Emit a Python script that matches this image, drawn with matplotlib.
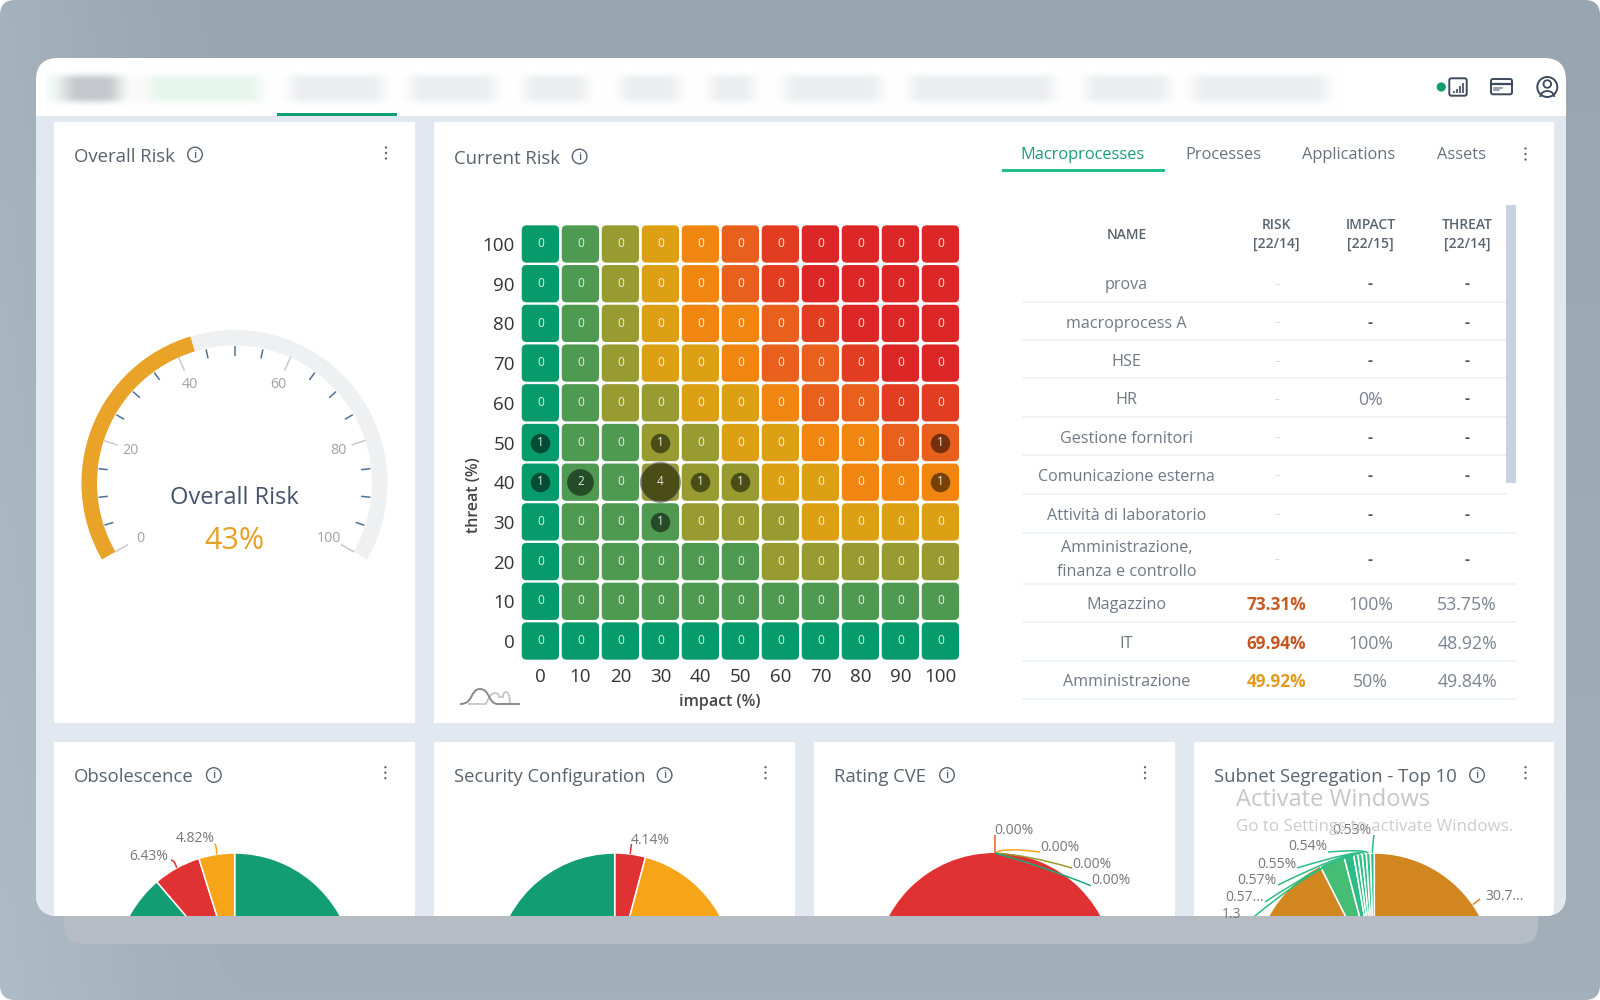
import numpy as np
import matplotlib
matplotlib.use("Agg")
import matplotlib.pyplot as plt
from matplotlib.patches import FancyBboxPatch, Rectangle, Circle, Wedge, PathPatch, Arc
from matplotlib.path import Path

# ---------- data ----------
impact_ticks = [0, 10, 20, 30, 40, 50, 60, 70, 80, 90, 100]
threat_ticks = [0, 10, 20, 30, 40, 50, 60, 70, 80, 90, 100]
heat_palette = ['#079a6b', '#4e9a50', '#979b30', '#dda015', '#f0860f', '#e9601d', '#e23d20', '#dd2726']
# rows listed from threat 100 down to threat 0
heat_levels = [
    [0, 1, 2, 3, 4, 5, 6, 7, 7, 7, 7],
    [0, 1, 2, 3, 4, 5, 6, 7, 7, 7, 7],
    [0, 1, 2, 3, 4, 4, 5, 6, 7, 7, 7],
    [0, 1, 2, 3, 3, 4, 5, 5, 6, 7, 7],
    [0, 1, 2, 2, 3, 3, 4, 5, 5, 6, 6],
    [0, 1, 1, 2, 2, 3, 3, 4, 4, 5, 5],
    [0, 1, 1, 2, 2, 2, 3, 3, 4, 4, 4],
    [0, 1, 1, 1, 2, 2, 2, 3, 3, 3, 3],
    [0, 1, 1, 1, 1, 1, 2, 2, 2, 2, 2],
    [0, 1, 1, 1, 1, 1, 1, 1, 1, 1, 1],
    [0, 0, 0, 0, 0, 0, 0, 0, 0, 0, 0],
]
heat_counts = [
    [0, 0, 0, 0, 0, 0, 0, 0, 0, 0, 0],
    [0, 0, 0, 0, 0, 0, 0, 0, 0, 0, 0],
    [0, 0, 0, 0, 0, 0, 0, 0, 0, 0, 0],
    [0, 0, 0, 0, 0, 0, 0, 0, 0, 0, 0],
    [0, 0, 0, 0, 0, 0, 0, 0, 0, 0, 0],
    [1, 0, 0, 1, 0, 0, 0, 0, 0, 0, 1],
    [1, 2, 0, 4, 1, 1, 0, 0, 0, 0, 1],
    [0, 0, 0, 1, 0, 0, 0, 0, 0, 0, 0],
    [0, 0, 0, 0, 0, 0, 0, 0, 0, 0, 0],
    [0, 0, 0, 0, 0, 0, 0, 0, 0, 0, 0],
    [0, 0, 0, 0, 0, 0, 0, 0, 0, 0, 0],
]
gauge_value = 43
gauge_major = [0, 20, 40, 60, 80, 100]

table_names = ['prova', 'macroprocess A', 'HSE', 'HR', 'Gestione fornitori', 'Comunicazione esterna',
               'Attività di laboratorio', 'Amministrazione,\nfinanza e controllo', 'Magazzino', 'IT',
               'Amministrazione']
table_risk = ['-', '-', '-', '-', '-', '-', '-', '-', '73.31%', '69.94%', '49.92%']
table_impact = ['-', '-', '-', '0%', '-', '-', '-', '-', '100%', '100%', '50%']
table_threat = ['-', '-', '-', '-', '-', '-', '-', '-', '53.75%', '48.92%', '49.84%']
risk_colors = {'73.31%': '#c85a22', '69.94%': '#c4551f', '49.92%': '#e39a1e'}

obsolescence_values = [88.75, 6.43, 4.82]
obsolescence_colors = ['#139d72', '#e03233', '#f6a519']
security_values = [4.14, 45.86, 50.0]
security_colors = ['#e03233', '#f6a519', '#139d72']
cve_values = [100.0, 0.0, 0.0, 0.0, 0.0]
cve_colors = ['#e03233', '#139d72', '#979b30', '#f6a519', '#e9601d']
subnet_values = [30.7, 30.84, 31.0, 3.4, 1.3, 0.57, 0.57, 0.55, 0.54, 0.53]
subnet_colors = ['#d2861f', '#d2861f', '#d2861f', '#45bd75', '#2bbd84', '#2fc08a', '#2fc08a', '#2fc08a', '#2fc08a', '#2fc08a']

W, H = 1600, 1000
BODY = 'Open Sans'
HEATFONT = 'Open Sans'
fig = plt.figure(figsize=(16, 10), dpi=100, facecolor='white')


def px_axes(x0, y0, x1, y1, z=1):
    a = fig.add_axes([x0 / W, 1 - y1 / H, (x1 - x0) / W, (y1 - y0) / H], zorder=z)
    a.patch.set_alpha(0)
    return a


def full_px(z):
    a = px_axes(0, 0, W, H, z)
    a.set_xlim(0, W)
    a.set_ylim(H, 0)
    a.axis('off')
    return a


bg = full_px(0)
fg = full_px(5)


def rrect(a, x0, y0, x1, y1, r, **kw):
    p = FancyBboxPatch((x0, y0), x1 - x0, y1 - y0, boxstyle=f'round,pad=0,rounding_size={r}', **kw)
    a.add_patch(p)
    return p


# ---------- page background ----------
yy, xx = np.mgrid[0:1:60j, 0:1:96j]
shade = 154 + 12 * np.clip(1 - xx * 7, 0, 1) ** 1.3 + 10 * yy
grad = np.clip(np.dstack([shade, shade + 12, shade + 21]) / 255, 0, 1)
im = bg.imshow(grad, extent=(0, W, H, 0), aspect='auto', interpolation='bilinear', zorder=0)
outer = rrect(bg, 0, 0, W, H, 15, facecolor='none', edgecolor='none', zorder=0)
im.set_clip_path(outer)
bg.set_xlim(0, W)
bg.set_ylim(H, 0)

rrect(bg, 64, 880, 1538, 944, 18, facecolor='#b5bcc4', edgecolor='none', zorder=1)
window = rrect(bg, 36, 58, 1566, 916, 22, facecolor='white', edgecolor='none', zorder=2)


def clipped_rect(x0, y0, x1, y1, color, z=3):
    r = Rectangle((x0, y0), x1 - x0, y1 - y0, facecolor=color, edgecolor='none', zorder=z)
    bg.add_patch(r)
    r.set_clip_path(window)
    return r


clipped_rect(30, 116, 1570, 920, '#e1e8f0', 3)
for (x0, y0, x1, y1) in [(54, 121.5, 415, 722.5), (434, 121.5, 1554, 722.5),
                         (54, 741.7, 415, 920), (434, 741.7, 795, 920),
                         (814, 741.7, 1174.5, 920), (1194, 741.7, 1554, 920)]:
    clipped_rect(x0, y0, x1, y1, 'white', 4)

# ---------- blurred navigation strip ----------
nav_w = 1320
nav_rgb = np.full((nav_w, 3), 255.0)
nav_blocks = [(48, 262, (236, 246, 241)), (66, 118, (196, 199, 203)), (120, 150, (250, 251, 250)),
              (153, 255, (230, 245, 238)), (291, 383, (236, 237, 240)), (411, 495, (236, 237, 240)),
              (525, 587, (236, 237, 240)), (622, 679, (236, 237, 240)), (711, 753, (236, 237, 240)),
              (786, 880, (236, 237, 240)), (911, 1053, (236, 237, 240)), (1087, 1168, (236, 237, 240)),
              (1194, 1327, (236, 237, 240))]
for x0, x1, col in nav_blocks:
    nav_rgb[x0 - 46:x1 - 46] = col
kern = np.hanning(37)
kern /= kern.sum()
pad_rgb = np.pad(nav_rgb, ((18, 18), (0, 0)), mode='edge')
nav_rgb = np.stack([np.convolve(pad_rgb[:, c], kern, mode='valid') for c in range(3)], axis=1)
vprof = np.hanning(25)[:13]
vprof = np.r_[vprof, np.ones(13), vprof[::-1]]
nav_img = 255 - np.outer(vprof, np.ones(nav_w))[..., None] * (255 - nav_rgb[None, :, :])
nim = bg.imshow(nav_img / 255, extent=(46, 46 + nav_w, 108, 69), aspect='auto', interpolation='bilinear', zorder=5)
bg.set_xlim(0, W)
bg.set_ylim(H, 0)
bg.add_patch(Rectangle((276.5, 113), 120.5, 3, facecolor='#12a073', edgecolor='none', zorder=6))

# top right icons
ICON = '#3c4a5c'
bg.add_patch(Circle((1441.3, 87), 4.6, facecolor='#0f9e6e', edgecolor='none', zorder=6))
rrect(bg, 1449.3, 78.3, 1466.7, 95.7, 2, facecolor='none', edgecolor=ICON, linewidth=1.4, zorder=6)
for x, top in zip([1453.5, 1456.7, 1459.9, 1463.1], [91, 88.5, 85.5, 82.5]):
    bg.plot([x, x], [92.5, top], color=ICON, lw=1.2, zorder=6, solid_capstyle='butt')
rrect(bg, 1491, 79, 1512, 94.3, 2, facecolor='none', edgecolor=ICON, linewidth=1.4, zorder=6)
bg.plot([1491, 1512], [83.5, 83.5], color=ICON, lw=1.6, zorder=6)
bg.plot([1494, 1502], [87.5, 87.5], color='#7c8794', lw=1.1, zorder=6)
bg.plot([1494, 1499], [90, 90], color='#7c8794', lw=1.1, zorder=6)
bg.add_patch(Circle((1547.3, 87), 10, facecolor='none', edgecolor=ICON, lw=1.4, zorder=6))
bg.add_patch(Circle((1547.3, 84), 3.8, facecolor='none', edgecolor=ICON, lw=1.3, zorder=6))
bg.add_patch(Arc((1547.3, 97), 14, 12, theta1=180, theta2=360, edgecolor=ICON, lw=1.3, zorder=6))

# ---------- card titles ----------
TITLE = '#57636f'


def card_head(title, x, y, info_x, dots_x, dots_y):
    fg.text(x, y + 2, title, fontsize=13.3, color=TITLE, family=BODY, va='center', ha='left')
    fg.add_patch(Circle((info_x, y - 0.5), 7.3, facecolor='none', edgecolor=TITLE, lw=1.0))
    fg.text(info_x, y, 'i', fontsize=8, color=TITLE, family=BODY, weight='semibold', ha='center', va='center')
    for dy in (-5.5, 0, 5.5):
        fg.add_patch(Circle((dots_x, dots_y + dy), 1.15, facecolor=TITLE, edgecolor='none'))


card_head('Overall Risk', 74, 155, 195, 386, 153)
card_head('Current Risk', 454, 157, 579.6, 1525.5, 154)
card_head('Obsolescence', 74, 775.5, 213.8, 385.4, 772.7)
card_head('Security Configuration', 453.8, 775.5, 664.6, 765.5, 772.7)
card_head('Rating CVE', 834, 775.5, 947, 1145, 772.7)
card_head('Subnet Segregation - Top 10', 1213.8, 775.5, 1477, 1525.5, 772.7)

# ---------- tabs ----------
for lab, x, col in [('Macroprocesses', 1083, '#1a9c74'), ('Processes', 1223.6, '#67727e'),
                    ('Applications', 1349, '#67727e'), ('Assets', 1461.4, '#67727e')]:
    fg.text(x, 155, lab, fontsize=11.8, color=col, family=BODY, weight='medium', ha='center', va='center')
fg.add_patch(Rectangle((1002, 169), 163, 2.6, facecolor='#1fc08a', edgecolor='none'))

# ---------- gauge ----------
gx = px_axes(78, 325, 392, 575, 2)
gx.set_xlim(78 - 234.5, 392 - 234.5)
gx.set_ylim(483 - 575, 483 - 325)
gx.axis('off')


def gauge_angle(v):
    return 210 - 2.4 * v


R_OUT, R_IN = 153, 137.5
gx.add_patch(Wedge((0, 0), R_OUT, gauge_angle(100), gauge_angle(0), width=R_OUT - R_IN, facecolor='#eef0f1', edgecolor='none'))
gx.add_patch(Wedge((0, 0), R_OUT, gauge_angle(gauge_value), gauge_angle(0), width=R_OUT - R_IN, facecolor='#e8a328', edgecolor='none'))
for v in range(0, 101, 5):
    th = np.radians(gauge_angle(v))
    major = v in gauge_major
    r0, r1 = (138, 123) if major else (136.6, 127.4)
    gx.plot([r0 * np.cos(th), r1 * np.cos(th)], [r0 * np.sin(th), r1 * np.sin(th)],
            color='#c9c9c9' if major else '#4f7199', lw=1.1, solid_capstyle='butt')
    if major:
        gx.text(109 * np.cos(th), 109 * np.sin(th) - 1, str(v), fontsize=10.3, color='#a2a2a2', family=BODY,
                ha='center', va='center')
gx.text(0, -15, 'Overall Risk', fontsize=17, color='#46546a', family=BODY, ha='center', va='center')
gx.text(0, -58, f'{gauge_value}%', fontsize=22, color='#e8a028', family=BODY, ha='center', va='center')

# ---------- heat map ----------
hx = px_axes(520.4, 224.15, 960.4, 660.85, 2)
hx.set_xlim(-5, 105)
hx.set_ylim(-5, 105)
for row, threat in enumerate(threat_ticks[::-1]):
    for col, imp in enumerate(impact_ticks):
        hx.add_patch(FancyBboxPatch((imp - 4.66, threat - 4.7), 9.32, 9.4,
                                    boxstyle='round,pad=0,rounding_size=1.2',
                                    facecolor=heat_palette[heat_levels[row][col]], edgecolor='none', zorder=1))
        n = heat_counts[row][col]
        if n:
            d = {1: 19.5, 2: 26.7, 4: 40}[n] * 0.72
            hx.scatter([imp], [threat], s=d ** 2, color='black', alpha=0.5, linewidths=0, zorder=2)
            if n == 4:
                hx.scatter([imp], [threat], s=d ** 2, facecolors='none', edgecolors='#8a8a80', linewidths=0.8, alpha=0.8, zorder=3)
        hx.text(imp, threat + 0.1, str(n), fontsize=8.6, color='#ffffff', alpha=0.85, family=HEATFONT,
                weight='medium', ha='center', va='center', zorder=4)
hx.set_xticks(impact_ticks)
hx.set_yticks(threat_ticks)
hx.tick_params(axis='x', length=0, labelsize=13.5, labelcolor='#333333', pad=5.2)
hx.tick_params(axis='y', length=0, labelsize=13.5, labelcolor='#333333', pad=4)
for t in hx.get_xticklabels() + hx.get_yticklabels():
    t.set_family(HEATFONT)
for s in hx.spines.values():
    s.set_visible(False)
hx.set_xlabel('impact (%)', fontsize=11.5, family=HEATFONT, weight='semibold', color='#444444', va='center')
hx.set_ylabel('threat (%)', fontsize=11.5, family=HEATFONT, weight='semibold', color='#444444', va='center')
hx.xaxis.set_label_coords(0.4536, -0.0935)
hx.yaxis.set_label_coords(-0.106, 0.38)

# small distribution icon
dark = Path([(460, 704), (474, 704), (470, 689), (480, 689), (490, 689), (488, 704), (498, 704), (520, 704)],
            [Path.MOVETO, Path.CURVE4, Path.CURVE4, Path.CURVE4, Path.CURVE4, Path.CURVE4, Path.CURVE4, Path.LINETO])
light = Path([(468, 704), (486, 704), (490, 693), (495, 693), (499, 693), (499, 697), (501, 697), (503, 697), (503, 692), (506, 692), (510, 692), (510, 704), (516, 704)],
             [Path.MOVETO, Path.LINETO, Path.CURVE3, Path.CURVE3, Path.CURVE3, Path.CURVE3, Path.CURVE3, Path.CURVE3, Path.CURVE3, Path.CURVE3, Path.CURVE3, Path.CURVE3, Path.LINETO])
fg.add_patch(PathPatch(light, facecolor='none', edgecolor='#c2c2c2', lw=1.2))
fg.add_patch(PathPatch(dark, facecolor='none', edgecolor='#8a8a8a', lw=1.4))

# ---------- table ----------
HEAD = '#59636e'
HS = 10
fg.text(1126.5, 235, 'NAME', fontsize=HS, color=HEAD, family=BODY, weight='semibold', ha='center', va='center')
for l1, l2, x in [('RISK', '[22/14]', 1276.5), ('IMPACT', '[22/15]', 1370.5), ('THREAT', '[22/14]', 1467)]:
    fg.text(x, 225.3, l1, fontsize=HS, color=HEAD, family=BODY, weight='semibold', ha='center', va='center')
    fg.text(x, 244.3, l2, fontsize=HS, color=HEAD, family=BODY, weight='semibold', ha='center', va='center')
bg.add_patch(Rectangle((1506.4, 205), 9.6, 278.3, facecolor='#c9d3e0', edgecolor='none', zorder=6))
row_lines = [301.7, 340, 378.3, 417, 455.3, 494.3, 532.7, 584, 622.3, 660.7, 699.3]
row_lines_end = [1506.4] * 6 + [1516] * 5
for y, xe in zip(row_lines, row_lines_end):
    bg.plot([1023, xe], [y, y], color='#eef1f5', lw=1.2, zorder=5)
row_y = [283.3, 321.7, 360, 398.3, 436.7, 475, 513.7, 559, 603.3, 642, 680]
NAMEC = '#6f7986'
for y, name, rk, imp, th in zip(row_y, table_names, table_risk, table_impact, table_threat):
    if '\n' in name:
        a, b = name.split('\n')
        fg.text(1126.5, 548.5, a, fontsize=11.6, color=NAMEC, family=BODY, ha='center', va='center')
        fg.text(1126.5, 572.5, b, fontsize=11.6, color=NAMEC, family=BODY, ha='center', va='center')
    else:
        fg.text(1126.5, y + 2, name, fontsize=11.6, color=NAMEC, family=BODY, ha='center', va='center')
    if rk == '-':
        fg.text(1276.5, y + 1, rk, fontsize=11, color='#d5d8dc', family=BODY, ha='center', va='center')
    else:
        fg.text(1276.5, y + 2, rk, fontsize=12.4, color=risk_colors[rk], family=BODY, weight='bold', ha='center', va='center')
    for x, val in ((1370.5, imp), (1467, th)):
        if val == '-':
            fg.text(x, y + 1, val, fontsize=11, color='#4a5360', family=BODY, weight='bold', ha='center', va='center')
        else:
            fg.text(x, y + 2, val, fontsize=12.8, color='#7a8490', family=BODY, ha='center', va='center')

# ---------- pies ----------
PIE_R = 120
PIE_TOP = 853
PIE_Y = PIE_TOP + PIE_R
LAB = '#777777'


def pie_chart(cx, values, colors, edge='white'):
    a = px_axes(cx - PIE_R - 3, PIE_TOP - 3, cx + PIE_R + 3, 916, 2)
    wedges, _ = a.pie(values, colors=colors, startangle=90, counterclock=False, radius=1.0,
                      wedgeprops=dict(edgecolor=edge, linewidth=1.1))
    for w in wedges:
        w.set_clip_on(True)
    a.set_aspect('auto')
    pad = 3 / PIE_R
    a.set_xlim(-1 - pad, 1 + pad)
    a.set_ylim(1 - (916 - PIE_TOP) / PIE_R, 1 + pad)
    return a


def rim(cx, pct):
    th = np.radians(pct * 3.6)
    return cx + PIE_R * np.sin(th), PIE_Y - PIE_R * np.cos(th)


def leader(points, color, lw=1.1):
    pts = list(points)
    if len(pts) == 3:
        codes = [Path.MOVETO, Path.CURVE3, Path.CURVE3]
    else:
        codes = [Path.MOVETO] + [Path.LINETO] * (len(pts) - 1)
    p = PathPatch(Path(pts, codes), facecolor='none', edgecolor=color, lw=lw)
    fg.add_patch(p)
    p.set_clip_path(window)


def pie_label(x, y, s):
    t = fg.text(x, y, s, fontsize=10, color=LAB, family=BODY, ha='center', va='center')
    t.set_clip_path(window)
    return t


CX_OBS, CX_SEC, CX_CVE, CX_SUB = 234.7, 614.7, 994.7, 1374.3
pie_chart(CX_OBS, obsolescence_values, obsolescence_colors)
pie_chart(CX_SEC, security_values, security_colors)
pie_chart(CX_CVE, cve_values, cve_colors, edge='none')
pie_chart(CX_SUB, subnet_values, subnet_colors)

# obsolescence labels
cum = np.cumsum(obsolescence_values)
leader([rim(CX_OBS, 100 - obsolescence_values[2] / 2), (216.6, 844), (214.5, 844)], '#f6a519')
leader([rim(CX_OBS, cum[1] - obsolescence_values[1] / 2), (175, 860.7), (171, 860)], '#e03233')
pie_label(195, 839, '4.82%')
pie_label(149, 856.7, '6.43%')

# security labels
leader([rim(CX_SEC, security_values[0] / 2), (631.4, 844)], '#e03233')
pie_label(650.6, 840, '4.14%')

# CVE labels
top = rim(CX_CVE, 0)
leader([top, (994.7, 835)], '#e9601d')
leader([top, (1003, 847), (1040, 852)], '#f6a519')
leader([top, (1028, 855), (1072, 868)], '#979b30')
leader([top, (1042, 866), (1091, 885.7)], '#1ea97c')
pie_label(1013.5, 830, '0.00%')
pie_label(1060, 847.7, '0.00%')
pie_label(1091.7, 864, '0.00%')
pie_label(1110.5, 881, '0.00%')

# subnet labels
GL = '#2bbd84'
sub_cum = np.cumsum(subnet_values)
sub_mid = sub_cum - np.array(subnet_values) / 2
leader([rim(CX_SUB, sub_mid[9]), (1372.7, 843), (1374, 835)], GL)
leader([rim(CX_SUB, sub_mid[8]), (1366, 849), (1328, 852)], GL)
leader([rim(CX_SUB, sub_mid[7]), (1360, 849), (1297, 868)], GL)
leader([rim(CX_SUB, sub_mid[6]), (1345, 852), (1278, 885)], GL)
leader([rim(CX_SUB, sub_mid[5]), (1325, 862), (1265, 902)], GL)
leader([rim(CX_SUB, sub_mid[4]), (1310, 870), (1250, 920)], GL)
leader([rim(CX_SUB, subnet_values[0] / 2), (1480, 899)], '#d2861f')
pie_label(1352, 831, '0.53%')
pie_label(1308, 847, '0.54%')
pie_label(1276.7, 864, '0.55%')
pie_label(1257, 880.3, '0.57%')
pie_label(1245, 897.7, '0.57...')
pie_label(1232, 914, '1.3')
fg.text(1485, 896.7, '30.7...', fontsize=10, color=LAB, family=BODY, ha='left', va='center')

# watermark
fg.text(1235.6, 799.5, 'Activate Windows', fontsize=17, color='#c6c6c6', family=HEATFONT, ha='left', va='center')
fg.text(1235.6, 827, 'Go to Settings to activate Windows.', fontsize=12.2, color='#cccccc', family=HEATFONT, ha='left', va='center')

fig.savefig('out.png', dpi=100)
